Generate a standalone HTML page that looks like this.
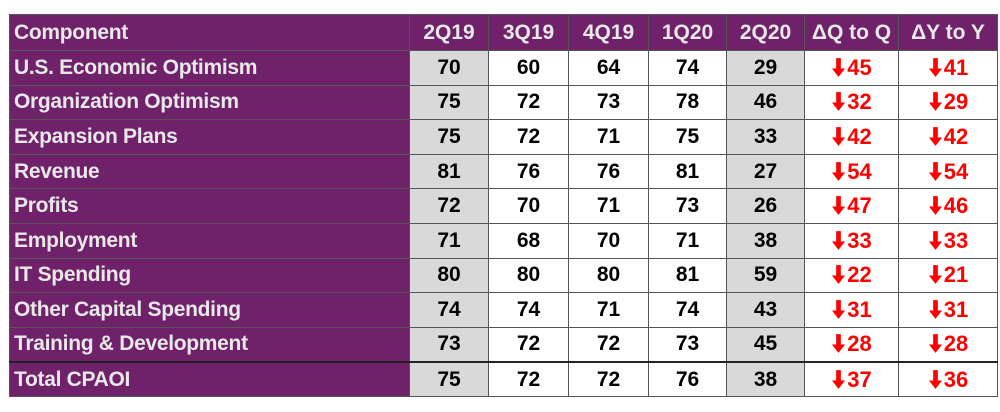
<!DOCTYPE html>
<html><head><meta charset="utf-8"><style>
body{margin:0;background:#fff;width:1000px;height:412px;overflow:hidden;font-family:"Liberation Sans",sans-serif;}
table{position:absolute;left:9px;top:14px;border-collapse:collapse;table-layout:fixed;}
td{box-sizing:border-box;height:34.6px;padding:0;font-weight:bold;font-size:21px;text-align:center;border:1px solid #555;}
td.c{background:#6f2269;color:#e8e8e8;text-align:left;padding-left:4px;letter-spacing:-0.3px;}
tr.h td{background:#6f2269;color:#e8e8e8;height:36px;}
td.g{background:#d9d9d9;}
td.r{color:#f00;font-size:22px;}
td.r svg{vertical-align:-2px;margin-right:1px;}
tr.t td{border-top:2px solid #222;height:35px;}
</style></head><body>
<svg width="0" height="0" style="position:absolute"><defs><symbol id="a" viewBox="0 0 16 20"><path d="M5.5 0h5v11h4.5L8 20 1 11h4.5z" fill="#f00"/></symbol></defs></svg>
<table>
<colgroup><col style="width:400px"><col style="width:79px"><col style="width:80px"><col style="width:80px"><col style="width:78px"><col style="width:78px"><col style="width:94px"><col style="width:99px"></colgroup>
<tr class="h"><td class="c">Component</td><td>2Q19</td><td>3Q19</td><td>4Q19</td><td>1Q20</td><td>2Q20</td><td>ΔQ to Q</td><td>ΔY to Y</td></tr>
<tr><td class="c">U.S. Economic Optimism</td><td class="g">70</td><td>60</td><td>64</td><td>74</td><td class="g">29</td><td class="r"><svg width="15" height="19"><use href="#a"/></svg>45</td><td class="r"><svg width="15" height="19"><use href="#a"/></svg>41</td></tr>
<tr><td class="c">Organization Optimism</td><td class="g">75</td><td>72</td><td>73</td><td>78</td><td class="g">46</td><td class="r"><svg width="15" height="19"><use href="#a"/></svg>32</td><td class="r"><svg width="15" height="19"><use href="#a"/></svg>29</td></tr>
<tr><td class="c">Expansion Plans</td><td class="g">75</td><td>72</td><td>71</td><td>75</td><td class="g">33</td><td class="r"><svg width="15" height="19"><use href="#a"/></svg>42</td><td class="r"><svg width="15" height="19"><use href="#a"/></svg>42</td></tr>
<tr><td class="c">Revenue</td><td class="g">81</td><td>76</td><td>76</td><td>81</td><td class="g">27</td><td class="r"><svg width="15" height="19"><use href="#a"/></svg>54</td><td class="r"><svg width="15" height="19"><use href="#a"/></svg>54</td></tr>
<tr><td class="c">Profits</td><td class="g">72</td><td>70</td><td>71</td><td>73</td><td class="g">26</td><td class="r"><svg width="15" height="19"><use href="#a"/></svg>47</td><td class="r"><svg width="15" height="19"><use href="#a"/></svg>46</td></tr>
<tr><td class="c">Employment</td><td class="g">71</td><td>68</td><td>70</td><td>71</td><td class="g">38</td><td class="r"><svg width="15" height="19"><use href="#a"/></svg>33</td><td class="r"><svg width="15" height="19"><use href="#a"/></svg>33</td></tr>
<tr><td class="c">IT Spending</td><td class="g">80</td><td>80</td><td>80</td><td>81</td><td class="g">59</td><td class="r"><svg width="15" height="19"><use href="#a"/></svg>22</td><td class="r"><svg width="15" height="19"><use href="#a"/></svg>21</td></tr>
<tr><td class="c">Other Capital Spending</td><td class="g">74</td><td>74</td><td>71</td><td>74</td><td class="g">43</td><td class="r"><svg width="15" height="19"><use href="#a"/></svg>31</td><td class="r"><svg width="15" height="19"><use href="#a"/></svg>31</td></tr>
<tr><td class="c">Training &amp; Development</td><td class="g">73</td><td>72</td><td>72</td><td>73</td><td class="g">45</td><td class="r"><svg width="15" height="19"><use href="#a"/></svg>28</td><td class="r"><svg width="15" height="19"><use href="#a"/></svg>28</td></tr>
<tr class="t"><td class="c">Total CPAOI</td><td class="g">75</td><td>72</td><td>72</td><td>76</td><td class="g">38</td><td class="r"><svg width="15" height="19"><use href="#a"/></svg>37</td><td class="r"><svg width="15" height="19"><use href="#a"/></svg>36</td></tr>
</table>
</body></html>
